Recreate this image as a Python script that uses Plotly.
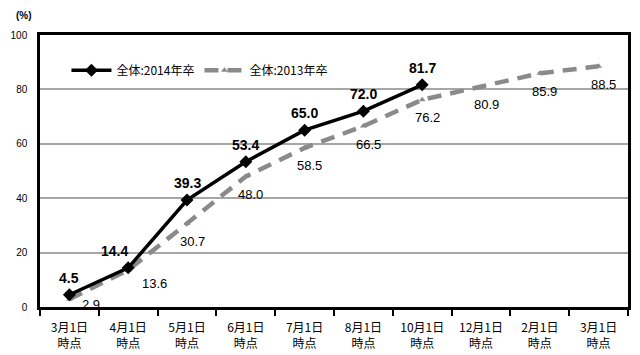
import plotly.graph_objects as go

categories = ["3月1日<br>時点", "4月1日<br>時点", "5月1日<br>時点", "6月1日<br>時点", "7月1日<br>時点",
              "8月1日<br>時点", "10月1日<br>時点", "12月1日<br>時点", "2月1日<br>時点", "3月1日<br>時点"]
values_2014 = [4.5, 14.4, 39.3, 53.4, 65.0, 72.0, 81.7]
values_2013 = [2.9, 13.6, 30.7, 48.0, 58.5, 66.5, 76.2, 80.9, 85.9, 88.5]
name_2014 = "全体:2014年卒"
name_2013 = "全体:2013年卒"
y_ticks = [0, 20, 40, 60, 80, 100]

x14 = list(range(len(values_2014)))
x13 = list(range(len(values_2013)))

JP = "Noto Sans CJK JP"
NUM = "Liberation Sans, Arial"

fig = go.Figure()
fig.add_trace(go.Scatter(
    x=x13, y=values_2013, mode="lines+markers", name=name_2013,
    line=dict(color="#8a8a8a", width=4.5, dash="14px,9px"),
    marker=dict(symbol="triangle-up", size=6, color="#8a8a8a"),
))
fig.add_trace(go.Scatter(
    x=x14, y=values_2014, mode="lines+markers", name=name_2014,
    line=dict(color="black", width=3.5),
    marker=dict(symbol="diamond", size=10, color="black"),
))

annotations = []
# 2014 labels: above points
for i, v in enumerate(values_2014):
    xs = -14 if i == 1 else 0
    annotations.append(dict(x=i, y=v, xref="x", yref="y", text=f"<b>{v:.1f}</b>",
                            showarrow=False, xshift=xs, yshift=17,
                            font=dict(family=NUM, size=14, color="black")))
# 2013 labels: below points
for i, v in enumerate(values_2013):
    if i == 0:
        xs, ys = 22, -5
    elif i == 1:
        xs, ys = 26, -13
    else:
        xs, ys = 5, -18
    annotations.append(dict(x=i, y=v, xref="x", yref="y", text=f"{v:.1f}",
                            showarrow=False, xshift=xs, yshift=ys,
                            font=dict(family=NUM, size=13, color="black")))
annotations.append(dict(text="<b>(%)</b>", xref="paper", yref="paper", x=-0.045, y=1.07,
                        showarrow=False, xanchor="left", yanchor="middle",
                        font=dict(family=NUM, size=10, color="black")))

fig.update_layout(
    width=632, height=347,
    margin=dict(l=32, r=12, t=27, b=48, autoexpand=False),
    paper_bgcolor="white", plot_bgcolor="white",
    showlegend=True,
    legend=dict(orientation="h", x=0.045, y=0.87, xanchor="left", yanchor="middle",
                bgcolor="rgba(0,0,0,0)", font=dict(family=JP, size=12, color="black"),
                traceorder="reversed", itemwidth=40),
    annotations=annotations,
)
fig.update_xaxes(
    range=[-0.5, len(categories) - 0.5], automargin=False,
    tickmode="array", tickvals=list(range(len(categories))), ticktext=categories,
    ticks="", showgrid=False, zeroline=False, ticklabelstandoff=8,
    showline=True, linecolor="black", linewidth=2.5, mirror=True,
    tickfont=dict(family=JP, size=12, color="black"),
    minor=dict(tickmode="linear", tick0=-0.5, dtick=1, ticks="outside", ticklen=6,
               tickwidth=2, tickcolor="black", showgrid=False),
)
fig.update_yaxes(
    range=[0, 100], tickmode="array", tickvals=y_ticks, automargin=False,
    showgrid=True, gridcolor="#a6a6a6", gridwidth=1.5, zeroline=False,
    showline=True, linecolor="black", linewidth=2.5, mirror=True,
    ticks="", ticklabelstandoff=8,
    tickfont=dict(family=NUM, size=10, color="black"),
)

fig.write_html("out.html")
